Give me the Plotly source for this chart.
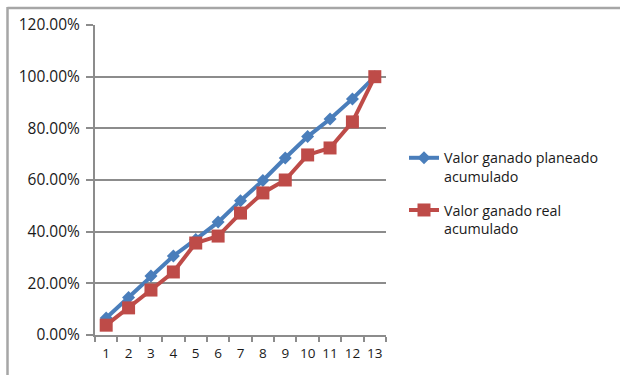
import plotly.graph_objects as go

categories = [str(i) for i in range(1, 14)]
planeado = [0.066, 0.145, 0.228, 0.306, 0.37, 0.437, 0.52, 0.598, 0.685, 0.768, 0.836, 0.914, 1.0]
real = [0.038, 0.105, 0.174, 0.244, 0.356, 0.383, 0.472, 0.55, 0.60, 0.697, 0.724, 0.825, 1.0]
y_ticks = [0, 0.2, 0.4, 0.6, 0.8, 1.0, 1.2]
names = ["Valor ganado planeado<br>acumulado", "Valor ganado real<br>acumulado"]

FONT = "Open Sans"
fig = go.Figure()
fig.add_trace(go.Scatter(x=categories, y=planeado, mode="lines+markers", name=names[0],
                         legendgroup="a",
                         line=dict(color="#4A7EBB", width=4),
                         marker=dict(symbol="diamond", size=10, color="#4A7EBB")))
fig.add_trace(go.Scatter(x=categories, y=real, mode="lines+markers", name=names[1],
                         legendgroup="b",
                         line=dict(color="#BE4B48", width=4),
                         marker=dict(symbol="square", size=13, color="#BE4B48")))

L, R, T, B = 95, 234, 25, 40
pw, ph = 620 - L - R, 375 - T - B

fig.update_layout(
    width=620, height=375,
    margin=dict(l=L, r=R, t=T, b=B, autoexpand=False),
    paper_bgcolor="white", plot_bgcolor="white",
    font=dict(family=FONT, size=12, color="#1a1a1a"),
    showlegend=True,
    legend=dict(x=(404 - L) / pw, y=(335 - 142) / ph, xanchor="left", yanchor="top",
                font=dict(family=FONT, size=14.3, color="#1a1a1a"),
                bgcolor="rgba(0,0,0,0)", tracegroupgap=12, traceorder="grouped",
                itemwidth=30, valign="top"),
    xaxis=dict(type="category", range=[-0.5, 12.5], showgrid=False,
               showline=True, linecolor="#8c8c8c", linewidth=2,
               ticks="outside", ticklen=5, tickcolor="#8c8c8c", tickwidth=2,
               tickson="boundaries", tickangle=0, ticklabelstandoff=5,
               tickfont=dict(size=13.5)),
    yaxis=dict(range=[0, 1.2], tickvals=y_ticks, tickformat=".2%",
               showgrid=True, gridcolor="#8c8c8c", gridwidth=2,
               showline=True, linecolor="#8c8c8c", linewidth=2,
               ticks="outside", ticklen=7, tickcolor="#8c8c8c", tickwidth=2,
               ticklabelstandoff=3,
               tickfont=dict(size=15.5), zeroline=False),
    shapes=[
        dict(type="line", xref="paper", yref="paper",
             x0=(7.5 - L) / pw, x1=(620 - L) / pw, y0=(335 - 8) / ph, y1=(335 - 8) / ph,
             line=dict(color="#a6a6a6", width=2.5)),
        dict(type="line", xref="paper", yref="paper",
             x0=(7.5 - L) / pw, x1=(7.5 - L) / pw, y0=(335 - 7) / ph, y1=(335 - 380) / ph,
             line=dict(color="#a6a6a6", width=2.5)),
    ],
)

fig.write_html("out.html", config={"displayModeBar": False})

# remove the default page margin so the figure sits at the window origin
with open("out.html", "r", encoding="utf-8") as f:
    html = f.read()
html = html.replace("<body>", '<body style="margin:0;padding:0;overflow:hidden">', 1)
with open("out.html", "w", encoding="utf-8") as f:
    f.write(html)
